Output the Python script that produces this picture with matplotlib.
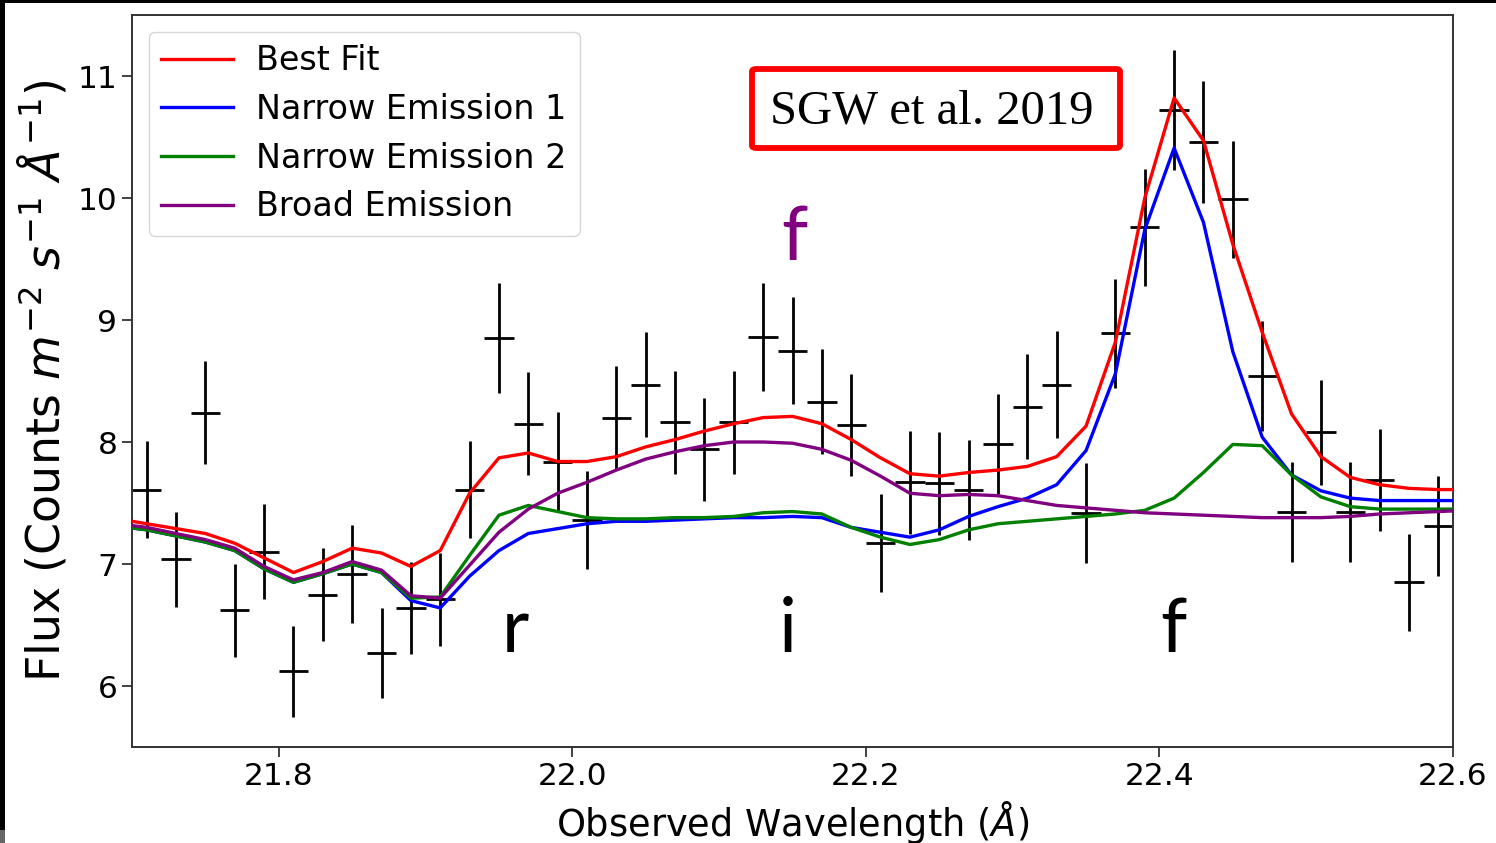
"""Line fit of the He-like triplet region: data with errors and model components."""
import matplotlib
matplotlib.use('Agg')
import matplotlib.pyplot as plt
import matplotlib.patches as mpatches
import numpy as np

# Observed spectrum (bin centres, flux, 1-sigma errors)
wave = np.round(np.arange(21.71, 22.60, 0.02), 2)
flux = [7.61, 7.04, 8.24, 6.62, 7.10, 6.12, 6.75, 6.92, 6.27, 6.64,
        6.71, 7.61, 8.85, 8.15, 7.84, 7.36, 8.20, 8.47, 8.16, 7.94,
        8.16, 8.86, 8.75, 8.33, 8.14, 7.17, 7.67, 7.66, 7.61, 7.98,
        8.29, 8.47, 7.42, 8.89, 9.76, 10.72, 10.46, 9.99, 8.54, 7.43,
        8.08, 7.43, 7.69, 6.85, 7.31]
flux_err = [0.40, 0.39, 0.42, 0.38, 0.39, 0.37, 0.38, 0.40, 0.37, 0.38,
            0.38, 0.40, 0.45, 0.42, 0.41, 0.40, 0.42, 0.43, 0.42, 0.42,
            0.42, 0.44, 0.44, 0.43, 0.42, 0.40, 0.42, 0.42, 0.41, 0.41,
            0.43, 0.44, 0.41, 0.45, 0.48, 0.49, 0.50, 0.48, 0.45, 0.41,
            0.43, 0.41, 0.42, 0.40, 0.41]
bin_half = 0.01

# Model grid runs one bin past each edge of the plotted range
model_wave = np.round(np.arange(21.69, 22.62, 0.02), 2)
best_fit = [7.37, 7.33, 7.29, 7.25, 7.17, 7.05, 6.93, 7.02, 7.13, 7.09,
            6.98, 7.11, 7.58, 7.87, 7.91, 7.84, 7.84, 7.88, 7.96, 8.02,
            8.09, 8.15, 8.20, 8.21, 8.15, 8.02, 7.87, 7.74, 7.72, 7.75,
            7.77, 7.80, 7.88, 8.13, 8.82, 10.00, 10.82, 10.47, 9.62, 8.90,
            8.23, 7.88, 7.71, 7.65, 7.62, 7.61, 7.61]
narrow_1 = [7.31, 7.28, 7.23, 7.18, 7.11, 6.96, 6.85, 6.92, 7.00, 6.93,
            6.70, 6.64, 6.90, 7.11, 7.25, 7.29, 7.33, 7.35, 7.35, 7.36,
            7.37, 7.38, 7.38, 7.39, 7.38, 7.30, 7.26, 7.22, 7.28, 7.39,
            7.47, 7.54, 7.65, 7.93, 8.56, 9.74, 10.41, 9.80, 8.74, 8.04,
            7.73, 7.60, 7.54, 7.52, 7.52, 7.52, 7.52]
narrow_2 = [7.31, 7.28, 7.23, 7.18, 7.11, 6.96, 6.85, 6.92, 7.00, 6.93,
            6.72, 6.73, 7.07, 7.40, 7.48, 7.43, 7.38, 7.37, 7.37, 7.38,
            7.38, 7.39, 7.42, 7.43, 7.41, 7.30, 7.22, 7.16, 7.20, 7.28,
            7.33, 7.35, 7.37, 7.39, 7.41, 7.44, 7.54, 7.75, 7.98, 7.97,
            7.73, 7.55, 7.47, 7.45, 7.45, 7.45, 7.45]
broad = [7.33, 7.30, 7.25, 7.20, 7.13, 6.98, 6.87, 6.93, 7.02, 6.95,
         6.74, 6.72, 6.99, 7.26, 7.45, 7.58, 7.67, 7.77, 7.86, 7.92,
         7.97, 8.00, 8.00, 7.99, 7.94, 7.85, 7.72, 7.58, 7.56, 7.57,
         7.56, 7.52, 7.48, 7.46, 7.44, 7.42, 7.41, 7.40, 7.39, 7.38,
         7.38, 7.38, 7.39, 7.41, 7.42, 7.43, 7.44]

components = [
    ("Best Fit", best_fit, "red"),
    ("Narrow Emission 1", narrow_1, "blue"),
    ("Narrow Emission 2", narrow_2, "green"),
    ("Broad Emission", broad, "purple"),
]

# Line identifications: (label, wavelength, flux baseline, colour)
line_ids = [
    ("r", 21.961, 6.28, "black"),
    ("i", 22.147, 6.28, "black"),
    ("f", 22.4095, 6.28, "black"),
    ("f", 22.151, 9.49, "purple"),
]

plt.rcParams.update({
    "font.family": "DejaVu Sans",
    "mathtext.fontset": "dejavusans",
})

fig = plt.figure(figsize=(14.96, 8.43), dpi=100)
ax = fig.add_axes([132 / 1496, 96 / 843, 1321 / 1496, 732 / 843])

ax.errorbar(wave, flux, yerr=flux_err, xerr=bin_half, fmt='none',
            ecolor='black', elinewidth=2.0, capsize=0, zorder=2)

for name, vals, col in components:
    ax.plot(model_wave, vals, color=col, lw=2.4, label=name, zorder=3)

for txt, x, y, col in line_ids:
    ax.text(x, y, txt, color=col, fontsize=54, family='Lato',
            ha='center', va='baseline', zorder=4)

ax.set_xlim(21.7, 22.6)
ax.set_ylim(5.5, 11.5)
ax.set_xticks([21.8, 22.0, 22.2, 22.4, 22.6])
ax.set_yticks([6, 7, 8, 9, 10, 11])
ax.tick_params(labelsize=22.5, length=7, width=1.3, color='#333333')
for sp in ax.spines.values():
    sp.set_color('#333333')
    sp.set_linewidth(1.4)

ax.set_xlabel(r'Observed Wavelength ($\AA$)', fontsize=26.5, labelpad=6)
ax.set_ylabel(r'Flux (Counts $m^{-2}$ $s^{-1}$ $\AA^{-1}$)', fontsize=33,
              labelpad=6)

leg = ax.legend(loc='upper left', fontsize=24, handlelength=2.15,
                handletextpad=0.7, borderpad=0.38, labelspacing=0.47,
                frameon=True, borderaxespad=0.5)
leg.get_frame().set_edgecolor('#cccccc')
for line in leg.get_lines():
    line.set_linewidth(2.4)

# Citation box
fig.patches.append(mpatches.FancyBboxPatch(
    (752 / 1496, 695 / 843), 368 / 1496, 79 / 843,
    boxstyle="round,pad=0,rounding_size=0.003", transform=fig.transFigure,
    facecolor='white', edgecolor='red', linewidth=4.2, zorder=5))
fig.text(932 / 1496, 732 / 843, "SGW et al. 2019", family='Liberation Serif',
         fontsize=35, ha='center', va='center', zorder=6)

# Dark frame strips along the left and top edges
fig.patches.append(mpatches.Rectangle((0, 0), 5 / 1496, 1, transform=fig.transFigure,
                                      facecolor='black', edgecolor='none'))
fig.patches.append(mpatches.Rectangle((0, 840 / 843), 1, 3 / 843, transform=fig.transFigure,
                                      facecolor='black', edgecolor='none'))
fig.patches.append(mpatches.Rectangle((0, 0), 5 / 1496, 13 / 843, transform=fig.transFigure,
                                      facecolor='#666666', edgecolor='none'))

fig.savefig("out.png", dpi=100)
